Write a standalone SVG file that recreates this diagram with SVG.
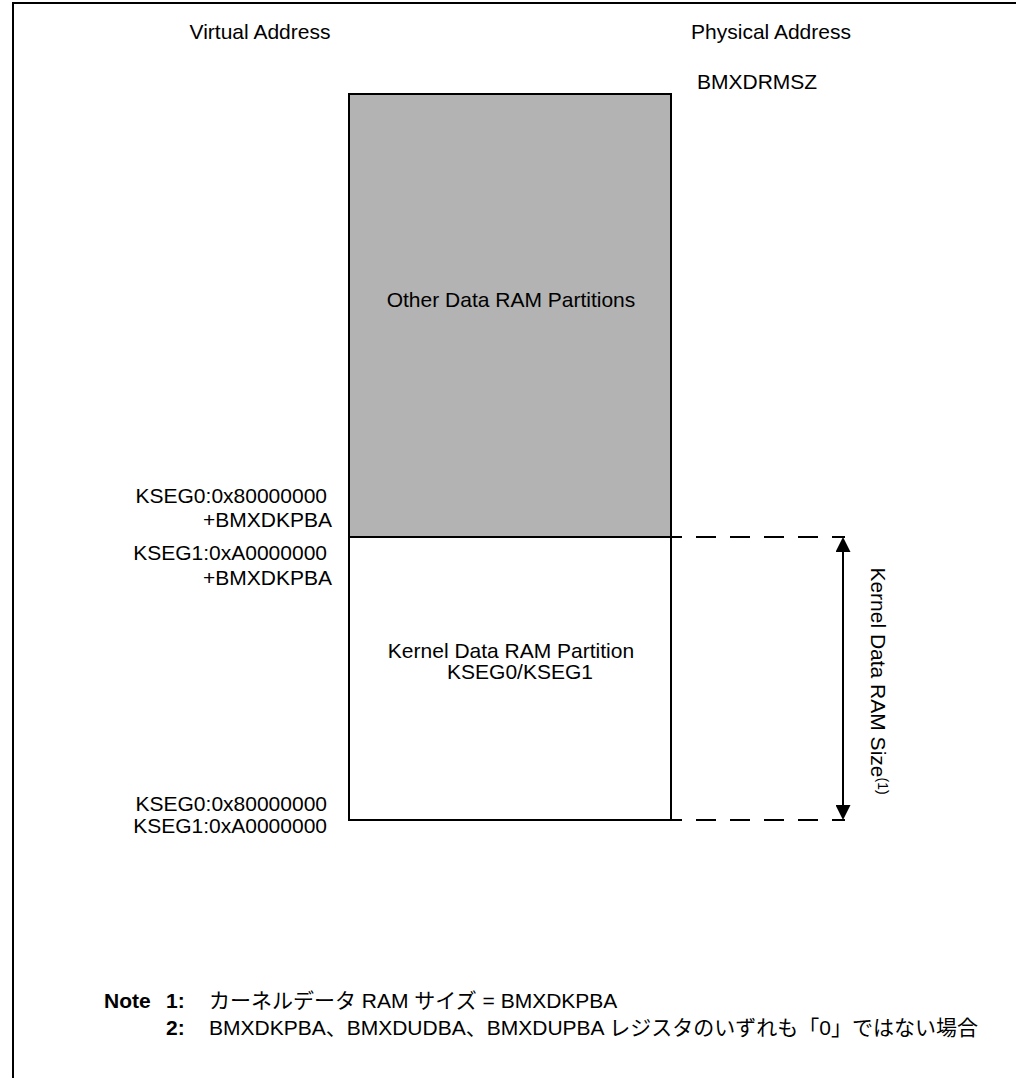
<svg xmlns="http://www.w3.org/2000/svg" width="1016" height="1078" viewBox="0 0 1016 1078">
<style>
text{font-family:"Liberation Sans","Noto Sans CJK JP",Arial,sans-serif;font-size:21px;fill:#000}
.r{text-anchor:end}
.m{text-anchor:middle}
.b{font-weight:bold}
.ln{stroke:#000;stroke-width:2;fill:none}
.dash{stroke:#000;stroke-width:2;stroke-dasharray:20 14;stroke-dashoffset:10;fill:none}
</style>
<defs>
<marker id="arr" viewBox="0 0 10 10" refX="0" refY="5" markerWidth="15" markerHeight="15" markerUnits="userSpaceOnUse" orient="auto-start-reverse">
<path d="M0,0 L10,5 L0,10 z" fill="#000"/>
</marker>
</defs>
<rect width="1016" height="1078" fill="#fff"/>
<path class="ln" d="M13,1078 V3 H1016"/>
<g id="headers">
<text x="260" y="39" class="m">Virtual Address</text>
<text x="771" y="39" class="m">Physical Address</text>
<text x="697" y="89">BMXDRMSZ</text>
</g>
<g id="other-partitions">
<rect x="349" y="94" width="322" height="443" fill="#b3b3b3" stroke="#000" stroke-width="2"/>
<text x="511" y="307" class="m">Other Data RAM Partitions</text>
</g>
<g id="kernel-partition">
<rect x="349" y="537" width="322" height="283" fill="#fff" stroke="#000" stroke-width="2"/>
<text x="511" y="658" class="m">Kernel Data RAM Partition</text>
<text x="520" y="679" class="m">KSEG0/KSEG1</text>
</g>
<g id="labels-left">
<text x="327" y="503" class="r">KSEG0:0x80000000</text>
<text x="332" y="527" class="r">+BMXDKPBA</text>
<text x="327" y="560" class="r">KSEG1:0xA0000000</text>
<text x="332" y="585" class="r">+BMXDKPBA</text>
<text x="327" y="811" class="r">KSEG0:0x80000000</text>
<text x="327" y="833" class="r">KSEG1:0xA0000000</text>
</g>
<g id="connectors">
<line class="dash" x1="672" y1="537" x2="845" y2="537"/>
<line class="dash" x1="672" y1="820" x2="845" y2="820"/>
<line class="ln" x1="843" y1="552" x2="843" y2="805" marker-start="url(#arr)" marker-end="url(#arr)"/>
</g>
<g id="size-label">
<text transform="translate(871,681) rotate(90)" class="m">Kernel Data RAM Size<tspan font-size="14" dy="-7">(1)</tspan></text>
</g>
<g id="notes">
<text x="104" y="1008" class="b">Note</text>
<text x="166" y="1008" class="b">1:</text>
<text x="209" y="1008">カーネルデータ RAM サイズ = BMXDKPBA</text>
<text x="166" y="1035" class="b">2:</text>
<text x="209" y="1035">BMXDKPBA、BMXDUDBA、BMXDUPBA レジスタのいずれも「0」ではない場合</text>
</g>
</svg>
